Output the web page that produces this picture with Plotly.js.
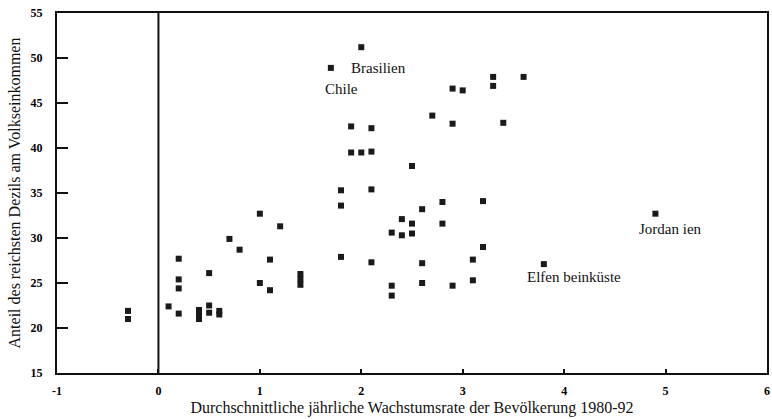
<!DOCTYPE html>
<html>
<head>
<meta charset="utf-8">
<script src="https://cdn.plot.ly/plotly-3.0.1.min.js"></script>
<style>html,body{margin:0;padding:0;background:#fff;}#chart{width:772px;height:419px;}</style>
</head>
<body>
<div id="chart"></div>
<script>
// Bevölkerungswachstum (x) vs. Anteil des reichsten Dezils (y)
const growth = [
  -0.3, -0.3,
  0.1, 0.2, 0.2, 0.2, 0.2,
  0.4, 0.4, 0.4, 0.5, 0.5, 0.5, 0.6, 0.6,
  0.7, 0.8, 1.0, 1.0, 1.1, 1.1, 1.2,
  1.4, 1.4, 1.4,
  1.7, 1.8, 1.8, 1.8, 1.9, 1.9, 2.0, 2.0, 2.1, 2.1, 2.1, 2.1,
  2.3, 2.3, 2.3, 2.4, 2.4, 2.5, 2.5, 2.5,
  2.6, 2.6, 2.6, 2.7, 2.8, 2.8,
  2.9, 2.9, 2.9, 3.0, 3.1, 3.1, 3.2, 3.2, 3.3, 3.3, 3.4, 3.6,
  3.8, 4.9
];
const topDecile = [
  21.9, 21.0,
  22.4, 27.7, 25.4, 24.4, 21.6,
  22.0, 21.5, 21.0, 26.1, 22.5, 21.7, 21.9, 21.5,
  29.9, 28.7, 32.7, 25.0, 27.6, 24.2, 31.3,
  26.0, 25.4, 24.8,
  48.9, 35.3, 33.6, 27.9, 42.4, 39.5, 51.2, 39.5, 42.2, 39.6, 35.4, 27.3,
  30.6, 24.7, 23.6, 32.1, 30.3, 38.0, 31.6, 30.5,
  33.2, 27.2, 25.0, 43.6, 34.0, 31.6,
  46.6, 42.7, 24.7, 46.4, 27.6, 25.3, 34.1, 29.0, 47.9, 46.9, 42.8, 47.9,
  27.1, 32.7
];
const labelText = ["Brasilien", "Chile", "Jordan ien", "Elfen beinküste"];
const labelX = [1.88, 1.62, 4.72, 3.61];
const labelY = [48.9, 46.6, 31.0, 25.7];

const serif = 'Liberation Serif, Times New Roman, serif';
const trace = {
  x: growth, y: topDecile, type: 'scatter', mode: 'markers',
  marker: {symbol: 'square', size: 6, color: '#1a1a1a', line: {width: 0}},
  hoverinfo: 'skip'
};
const anns = labelText.map((t, i) => ({
  x: labelX[i], y: labelY[i], text: t, showarrow: false,
  xanchor: 'left', yanchor: 'middle',
  font: {family: serif, size: 15, color: '#111'}
}));
const layout = {
  width: 772, height: 419,
  margin: {l: 57, r: 5, t: 13, b: 46},
  paper_bgcolor: '#fff', plot_bgcolor: '#fff',
  showlegend: false,
  font: {family: serif, color: '#111'},
  xaxis: {
    range: [-1, 6], tickvals: [-1,0,1,2,3,4,5,6], ticktext: ['-1','0','1','2','3','4','5','6'],
    showgrid: false, zeroline: false,
    showline: true, linecolor: '#111', linewidth: 2, mirror: true,
    ticks: 'inside', ticklen: 4, tickwidth: 2, tickcolor: '#111',
    ticklabelstandoff: 6,
    tickfont: {family: serif, size: 12, color: '#000', weight: 'bold'},
    title: {text: 'Durchschnittliche jährliche Wachstumsrate der Bevölkerung 1980-92', font: {family: serif, size: 16, color: '#111'}, standoff: 4}
  },
  yaxis: {
    range: [15, 55], dtick: 5,
    showgrid: false, zeroline: false,
    showline: true, linecolor: '#111', linewidth: 2, mirror: true,
    ticks: 'inside', ticklen: 11, tickwidth: 2, tickcolor: '#111',
    ticklabelstandoff: 10,
    tickfont: {family: serif, size: 12, color: '#000', weight: 'bold'},
    title: {text: 'Anteil des reichsten Dezils am Volkseinkommen', font: {family: serif, size: 16, color: '#111'}, standoff: 6}
  },
  shapes: [{type: 'line', xref: 'x', yref: 'paper', x0: 0, x1: 0, y0: 0, y1: 1, line: {color: '#111', width: 2}}],
  annotations: anns
};
Plotly.newPlot('chart', [trace], layout, {displayModeBar: false, staticPlot: true});
</script>
</body>
</html>
